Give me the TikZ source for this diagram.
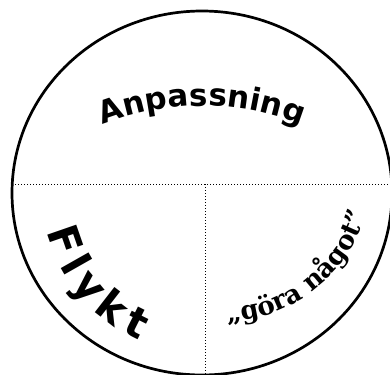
\documentclass[tikz,border=0pt]{standalone}
\usepackage{fontspec}
\setsansfont{DejaVu Sans}
\newfontfamily\quoteserif{DejaVu Serif}
\usetikzlibrary{decorations.text}

\newcommand\anpfont{\sffamily\bfseries\fontsize{31pt}{33pt}\selectfont}
\newcommand\flyfont{\sffamily\bfseries\fontsize{42pt}{44pt}\selectfont}
\newcommand\gorfont{\quoteserif\bfseries\fontsize{26pt}{28pt}\selectfont}

\begin{document}
\begin{tikzpicture}[
        x=1pt, y=1pt,
        rim/.style={draw=black, line width=2.7pt},
        divider/.style={draw=black, line width=1pt, dotted},
        arctext/.style={decorate, decoration={text along path, text align={#1}}}
    ]
        \useasboundingbox (0,0) rectangle (390,-374);
        \clip (0,0) rectangle (390,-374);

        \coordinate (mid) at (202,-193);
        \coordinate (cutL) at (12,-184);
        \coordinate (cutR) at (395,-184);
        \coordinate (splitT) at (205,-184);
        \coordinate (splitB) at (205,-380);

        \draw[rim] (mid) ellipse [x radius=190, y radius=182];

        \draw[divider] (cutL) -- (cutR);
        \draw[divider] (splitT) -- (splitB);

        % labels bent along arcs
        \path[arctext=center, decoration={text={|\anpfont|Anpassning}}]
            ([shift={(202,-376)}]113:270) arc[start angle=113, end angle=67, radius=270];
        \path[arctext={fit to path}, decoration={text={|\flyfont|Flykt}}]
            ([shift={(202,-193)}]194:160) arc[start angle=194, end angle=247, radius=160];
        \path[arctext=center, decoration={text={|\gorfont|„göra något”}}]
            ([shift={(222,-172)}]-92:150) arc[start angle=-92, end angle=-12, radius=150];

    \end{tikzpicture}
\end{document}
